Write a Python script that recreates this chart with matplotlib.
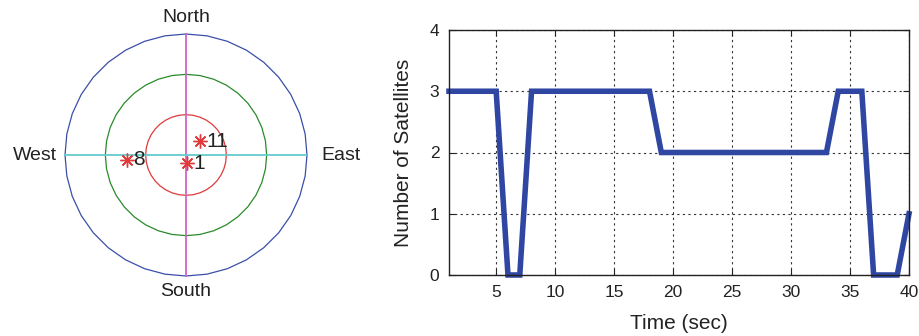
import numpy as np
import matplotlib
matplotlib.use('Agg')
import matplotlib.pyplot as plt

plt.rcParams['font.family'] = ['Liberation Sans', 'DejaVu Sans']

# sky plot: satellite positions (east, north) in degrees off zenith
sat_ids = ['11', '8', '1']
sat_east = [10.4, -44.0, 0.7]
sat_north = [10.4, -3.7, -6.0]
ring_radii = [30, 60, 90]
ring_colors = ['#e03a3a', '#2a8a2a', '#3a4fa8']

# visible satellites over time
time_sec = list(range(1, 41))
num_sats = [3, 3, 3, 3, 3, 0, 0, 3, 3, 3,
            3, 3, 3, 3, 3, 3, 3, 3, 2, 2,
            2, 2, 2, 2, 2, 2, 2, 2, 2, 2,
            2, 2, 2, 3, 3, 3, 0, 0, 0, 1]

fig = plt.figure(figsize=(9.19, 3.36), dpi=100)

# ---- sky plot ----
ax1 = fig.add_axes([0, 0, 370 / 919, 1])
scale = 121 / 90.0
ax1.set_xlim(-186 / scale, (370 - 186) / scale)
ax1.set_ylim(-181 / scale, (336 - 181) / scale)
ax1.set_aspect('equal')
ax1.axis('off')

ang = np.linspace(0, 2 * np.pi, 37)
for r, c in zip(ring_radii, ring_colors):
    ax1.plot(r * np.cos(ang), r * np.sin(ang), color=c, lw=0.9)
ax1.plot([0, 0], [-90, 90], color='#cc66cc', lw=1.3)
ax1.plot([-90, 90], [0, 0], color='#66cccc', lw=1.3)

for sid, e, n in zip(sat_ids, sat_east, sat_north):
    ax1.plot(e, n, marker=(8, 2, 0), color='#e03a3a', ms=10, mew=1.0,
             linestyle='none')
    ax1.text(e + 5, n, sid, fontsize=15, va='center', ha='left', color='#222222')

ax1.text(0, 96, 'North', fontsize=14, ha='center', va='bottom', color='#222222')
ax1.text(0, -95, 'South', fontsize=14, ha='center', va='top', color='#222222')
ax1.text(-96, 0, 'West', fontsize=14, ha='right', va='center', color='#222222')
ax1.text(101, 0, 'East', fontsize=14, ha='left', va='center', color='#222222')

# ---- satellites vs time ----
ax2 = fig.add_axes([449 / 919, 61 / 336, 460 / 919, 245 / 336])
ax2.plot(time_sec, num_sats, color='#2f47a3', lw=4, solid_joinstyle='miter',
         clip_on=False)
ax2.set_xlim(1, 40)
ax2.set_ylim(0, 4)
ax2.set_xticks([5, 10, 15, 20, 25, 30, 35, 40])
ax2.set_yticks([0, 1, 2, 3, 4])
ax2.grid(True, linestyle=(0, (2, 3)), color='#333333', lw=0.8)
ax2.tick_params(direction='in', top=True, right=True, labelsize=12.5, length=4,
                colors='#222222', pad=7)
ax2.set_xlabel('Time (sec)', fontsize=15, color='#222222', labelpad=10)
ax2.set_ylabel('Number of Satellites', fontsize=15, color='#222222', labelpad=12)
for sp in ax2.spines.values():
    sp.set_linewidth(1.0)
    sp.set_color('#222222')

fig.savefig('out.png', dpi=100)
